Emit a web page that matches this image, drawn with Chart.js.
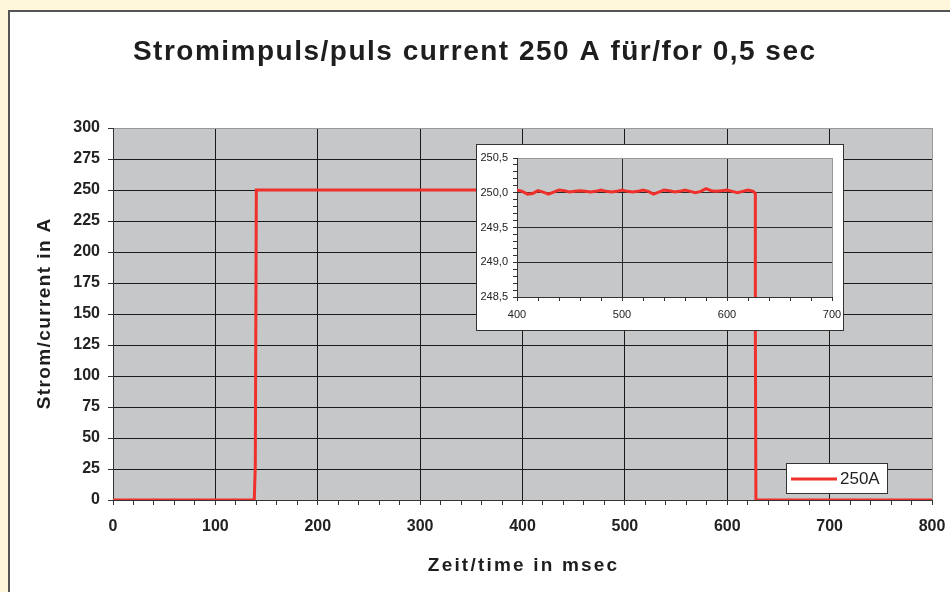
<!DOCTYPE html>
<html>
<head>
<meta charset="utf-8">
<script src="https://cdn.jsdelivr.net/npm/chart.js@4/dist/chart.umd.min.js"></script>
<style>
  html, body { margin: 0; padding: 0; }
  body { width: 950px; height: 592px; overflow: hidden; background: #FFF7DC; position: relative; }
  #frame { position: absolute; left: 8px; top: 10px; width: 960px; height: 600px; background: #fff;
           border-top: 2px solid #555; border-left: 2px solid #555; }
  #main { position: absolute; left: 0; top: 0; }
  #insetBox { position: absolute; left: 476px; top: 144px; width: 366px; height: 185px;
              border: 1px solid #333; background: #fff; }
  #inset { position: absolute; left: 0; top: 0; }
</style>
</head>
<body>
<div id="frame"></div>
<canvas id="main" width="950" height="592"></canvas>
<div id="insetBox"><canvas id="inset" width="366" height="185"></canvas></div>
<script>
const FONT = "'Liberation Sans', Arial, sans-serif";
const RED = '#F0302A';
const PLOT_BG = '#C6C7C9';

const chartTitle = 'Stromimpuls/puls current 250 A für/for 0,5 sec';
const xTitle = 'Zeit/time in msec';
const yTitle = 'Strom/current in A';
const seriesLabel = '250A';

// Zeit in msec
const timeMs = [
  0, 138, 139,
  140, 145, 150, 155, 160, 165, 170, 175, 180, 185, 190, 195,
  200, 205, 210, 215, 220, 225, 230, 235, 240, 245, 250, 255,
  260, 265, 270, 275, 280, 285, 290, 295, 300, 305, 310, 315,
  320, 325, 330, 335, 340, 345, 350, 355, 360, 365, 370, 375,
  380, 385, 390, 395, 400, 405, 410, 415, 420, 425, 430, 435,
  440, 445, 450, 455, 460, 465, 470, 475, 480, 485, 490, 495,
  500, 505, 510, 515, 520, 525, 530, 535, 540, 545, 550, 555,
  560, 565, 570, 575, 580, 585, 590, 595, 600, 605, 610, 615,
  620, 625, 627, 628, 800
];

// Strom in A
const currentA = [
  0, 0, 28,
  250.02, 250.03, 250.00, 250.02, 250.03, 250.01, 249.99, 250.02, 250.03, 250.00, 250.01, 250.03,
  250.02, 249.99, 250.01, 250.03, 250.00, 250.02, 250.03, 250.00, 249.99, 250.02, 250.03, 250.01,
  250.00, 250.03, 250.02, 249.99, 250.01, 250.03, 250.02, 250.00, 250.03, 250.01, 249.99, 250.02,
  250.03, 250.00, 250.01, 250.03, 250.02, 249.99, 250.02, 250.03, 250.00, 250.02, 250.03, 250.01,
  249.99, 250.02, 250.03, 250.01, 250.04, 250.02, 249.98, 249.99, 250.03, 250.01, 249.98, 250.01,
  250.04, 250.03, 250.01, 250.02, 250.03, 250.02, 250.01, 250.02, 250.04, 250.02, 250.01, 250.02,
  250.04, 250.02, 250.01, 250.02, 250.04, 250.02, 249.98, 250.01, 250.04, 250.03, 250.01, 250.02,
  250.04, 250.02, 250.00, 250.02, 250.06, 250.03, 250.02, 250.03, 250.04, 250.02, 250.00, 250.02,
  250.04, 250.02, 249.99, 0, 0
];

const xTicksMain = [0, 100, 200, 300, 400, 500, 600, 700, 800];
const yTicksMain = [0, 25, 50, 75, 100, 125, 150, 175, 200, 225, 250, 275, 300];
const xTicksInset = [400, 500, 600, 700];
const yTicksInset = [248.5, 249.0, 249.5, 250.0, 250.5];

const points = timeMs.map((t, i) => ({ x: t, y: currentA[i] }));

const plotBg = {
  id: 'plotBg',
  beforeDraw(chart) {
    const { ctx, chartArea: a } = chart;
    ctx.save();
    ctx.fillStyle = PLOT_BG;
    ctx.fillRect(a.left, a.top, a.right - a.left, a.bottom - a.top);
    ctx.restore();
  }
};

function spacedText(ctx, text, x, y, font, spacing, rot) {
  ctx.save();
  ctx.font = font;
  ctx.letterSpacing = spacing + 'px';
  ctx.fillStyle = '#1e1e1e';
  ctx.textAlign = 'center';
  ctx.textBaseline = 'middle';
  ctx.translate(x, y);
  if (rot) ctx.rotate(rot);
  ctx.fillText(text, spacing / 2, 0);
  ctx.restore();
}

const titles = {
  id: 'titles',
  afterDraw(chart) {
    const ctx = chart.ctx;
    const a = chart.chartArea;
    spacedText(ctx, chartTitle, 474, 52, 'bold 28px ' + FONT, 1.5);
    spacedText(ctx, xTitle, (a.left + a.right) / 2, 566, 'bold 19px ' + FONT, 2.2);
    spacedText(ctx, yTitle, 45, (a.top + a.bottom) / 2, 'bold 19px ' + FONT, 1.4, -Math.PI / 2);
  }
};

const legendBox = {
  id: 'legendBox',
  afterDraw(chart) {
    const ctx = chart.ctx;
    ctx.save();
    ctx.fillStyle = '#fff';
    ctx.fillRect(786, 463, 102, 31);
    ctx.strokeStyle = '#333';
    ctx.lineWidth = 1;
    ctx.strokeRect(786.5, 463.5, 101, 30);
    ctx.strokeStyle = RED;
    ctx.lineWidth = 3;
    ctx.beginPath();
    ctx.moveTo(791, 479);
    ctx.lineTo(837, 479);
    ctx.stroke();
    ctx.fillStyle = '#222';
    ctx.font = '17px ' + FONT;
    ctx.textBaseline = 'middle';
    ctx.fillText(seriesLabel, 840, 479);
    ctx.restore();
  }
};

const isMajor = (v, list) => list.some(t => Math.abs(t - v) < 1e-6);
const noPad = s => { s.paddingLeft = 0; s.paddingRight = 0; s.paddingTop = 0; s.paddingBottom = 0; };

new Chart(document.getElementById('main'), {
  type: 'line',
  data: { datasets: [{ label: seriesLabel, data: points, borderColor: RED, borderWidth: 3,
                       pointRadius: 0, tension: 0 }] },
  options: {
    responsive: false, animation: false, devicePixelRatio: 1,
    layout: { padding: { left: 0, top: 128, right: 18, bottom: 0 } },
    plugins: { legend: { display: false }, tooltip: { enabled: false } },
    scales: {
      x: {
        type: 'linear', min: 0, max: 800,
        ticks: { stepSize: 20, autoSkip: false, maxRotation: 0, padding: 12, color: '#222',
                 font: { family: FONT, size: 16, weight: 'bold' },
                 callback: v => isMajor(v, xTicksMain) ? v : '' },
        grid: { color: c => c.tick && isMajor(c.tick.value, xTicksMain) ? (c.tick.value === 800 ? '#999' : '#1a1a1a') : 'rgba(0,0,0,0)',
                tickColor: '#333', tickLength: 5, lineWidth: 1 },
        border: { color: '#333', width: 1 },
        afterFit: s => { s.height = 92; noPad(s); }
      },
      y: {
        min: 0, max: 300,
        ticks: { stepSize: 25, autoSkip: false, padding: 8, color: '#222',
                 font: { family: FONT, size: 16, weight: 'bold' },
                 callback: v => isMajor(v, yTicksMain) ? v : '' },
        grid: { color: c => c.tick && c.tick.value === 300 ? '#999' : '#1a1a1a',
                tickColor: '#333', tickLength: 5, lineWidth: 1 },
        border: { color: '#333', width: 1 },
        afterFit: s => { s.width = 113; noPad(s); }
      }
    }
  },
  plugins: [plotBg, titles, legendBox]
});

new Chart(document.getElementById('inset'), {
  type: 'line',
  data: { datasets: [{ label: seriesLabel, data: points, borderColor: RED, borderWidth: 3,
                       pointRadius: 0, tension: 0 }] },
  options: {
    responsive: false, animation: false, devicePixelRatio: 1,
    layout: { padding: { left: 0, top: 13, right: 11, bottom: 0 } },
    plugins: { legend: { display: false }, tooltip: { enabled: false } },
    scales: {
      x: {
        type: 'linear', min: 400, max: 700,
        ticks: { stepSize: 20, autoSkip: false, maxRotation: 0, padding: 7, color: '#222',
                 font: { family: FONT, size: 11 },
                 callback: v => isMajor(v, xTicksInset) ? v : '' },
        grid: { color: c => {
                  if (!c.tick || !isMajor(c.tick.value, xTicksInset) || c.tick.value === 400) return 'rgba(0,0,0,0)';
                  return c.tick.value === 700 ? '#999' : '#2a2a2a';
                },
                tickColor: '#333', tickLength: 4, lineWidth: 1 },
        border: { color: '#333', width: 1 },
        afterFit: s => { s.height = 33; noPad(s); }
      },
      y: {
        min: 248.5, max: 250.5,
        ticks: { stepSize: 0.1, autoSkip: false, padding: 5, color: '#222',
                 font: { family: FONT, size: 11 },
                 callback: v => isMajor(v, yTicksInset) ? v.toFixed(1).replace('.', ',') : '' },
        grid: { color: c => {
                  if (!c.tick || !isMajor(c.tick.value, yTicksInset)) return 'rgba(0,0,0,0)';
                  return Math.abs(c.tick.value - 250.5) < 1e-6 ? '#999' : '#2a2a2a';
                },
                tickColor: '#333', tickLength: 4, lineWidth: 1 },
        border: { color: '#333', width: 1 },
        afterFit: s => { s.width = 40; noPad(s); }
      }
    }
  },
  plugins: [plotBg]
});
</script>
</body>
</html>
